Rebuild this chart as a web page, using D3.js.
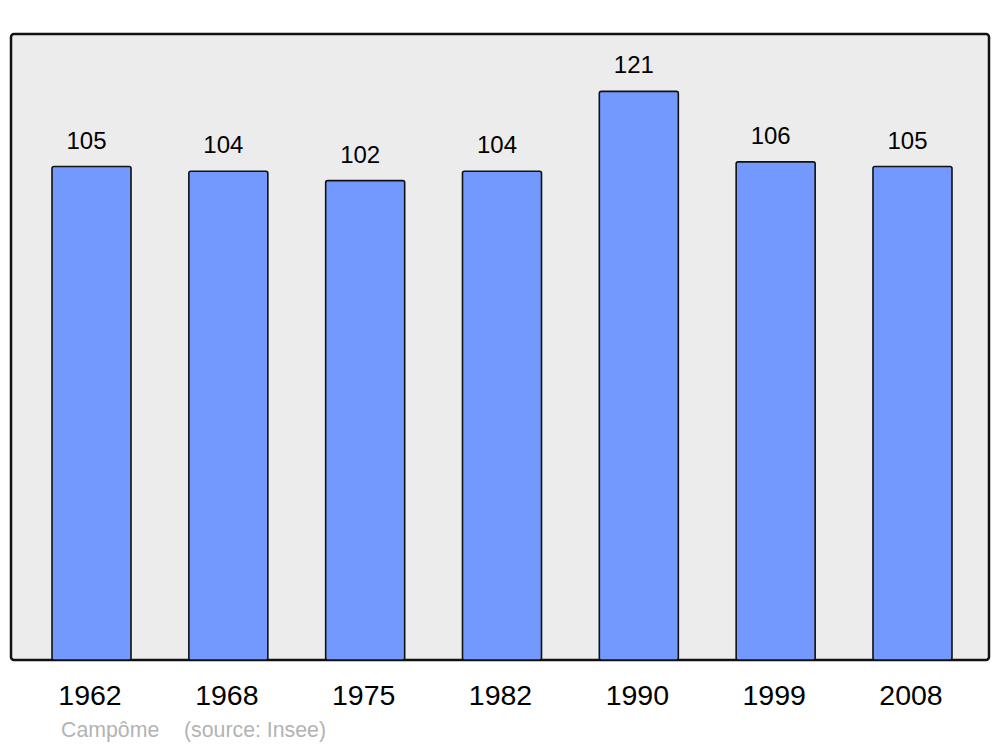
<!DOCTYPE html>
<html>
<head>
<meta charset="utf-8">
<script src="https://cdn.jsdelivr.net/npm/d3@7"></script>
<style>
  body { margin: 0; background: #fff; }
  svg text { font-family: "Liberation Sans", Arial, sans-serif; }
</style>
</head>
<body>
<div class="chart"></div>
<script>
var years = ["1962", "1968", "1975", "1982", "1990", "1999", "2008"];
var population = [105, 104, 102, 104, 121, 106, 105];
var townName = "Campôme";
var sourceLabel = "(source: Insee)";

var svgWidth = 1000;
var svgHeight = 747;

// plot panel box
var panel = { left: 11, top: 34, right: 989, bottom: 660 };

var svg = d3.select(".chart")
  .append("svg")
  .attr("width", svgWidth)
  .attr("height", svgHeight);

var xScale = d3.scaleBand()
  .domain(years)
  .range([23.1, 980.9])
  .paddingInner(0.4226)
  .paddingOuter(0.2113);

var yScale = d3.scaleLinear()
  .domain([0, 133.2])
  .range([panel.bottom, panel.top]);

// background panel
svg.append("rect")
  .attr("x", panel.left)
  .attr("y", panel.top)
  .attr("width", panel.right - panel.left)
  .attr("height", panel.bottom - panel.top)
  .attr("rx", 3)
  .attr("fill", "#ececec")
  .attr("stroke", "#111")
  .attr("stroke-width", 2.5);

// bars
svg.selectAll(".bar")
  .data(population)
  .enter().append("rect")
    .attr("class", "bar")
    .attr("x", function(d, i) { return xScale(years[i]); })
    .attr("y", function(d) { return yScale(d); })
    .attr("width", xScale.bandwidth())
    .attr("height", function(d) { return panel.bottom - yScale(d); })
    .attr("rx", 2)
    .attr("fill", "#7399ff")
    .attr("stroke", "#111")
    .attr("stroke-width", 1.6);

// value labels above bars
svg.selectAll(".value")
  .data(population)
  .enter().append("text")
    .attr("class", "value")
    .attr("x", function(d, i) { return xScale(years[i]) + xScale.bandwidth() / 2 - 5; })
    .attr("y", function(d) { return yScale(d) - 18; })
    .attr("text-anchor", "middle")
    .attr("font-size", 24)
    .attr("fill", "#000")
    .text(function(d) { return d; });

// year labels under the panel
var bottomAxis = d3.axisBottom(xScale).tickSize(0).tickPadding(0);
var axisG = svg.append("g")
  .attr("transform", "translate(-1.5," + (panel.bottom + 25) + ")")
  .call(bottomAxis);
axisG.select(".domain").remove();
axisG.selectAll("text")
  .attr("font-size", 28.5)
  .attr("fill", "#000")
  .attr("dy", "0.71em")
  .style("font-family", "'Liberation Sans', Arial, sans-serif");

// source line
svg.append("text")
  .attr("x", 61)
  .attr("y", 737)
  .attr("font-size", 21.3)
  .attr("fill", "#b3b3b3")
  .text(townName);

svg.append("text")
  .attr("x", 184)
  .attr("y", 737)
  .attr("font-size", 21.3)
  .attr("fill", "#b3b3b3")
  .text(sourceLabel);
</script>
</body>
</html>
